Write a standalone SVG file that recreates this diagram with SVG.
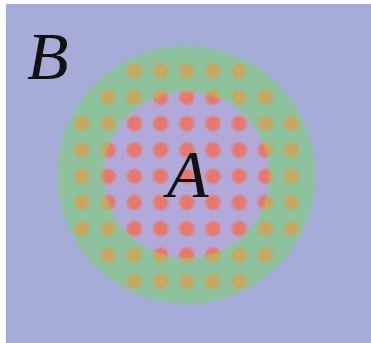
<svg xmlns="http://www.w3.org/2000/svg" xmlns:xlink="http://www.w3.org/1999/xlink" width="371" height="343" viewBox="0 0 371 343">
<style>
.lbl{font-family:"Liberation Serif","DejaVu Serif",serif;font-style:italic;font-size:68px;fill:#111}
</style>
<defs>
<clipPath id="innerClip"><circle cx="186.5" cy="175" r="83"/></clipPath>
<filter id="soft" x="-5%" y="-5%" width="110%" height="110%"><feGaussianBlur stdDeviation="0.9"/></filter>
<g id="dotgrid">
<circle cx="134.4" cy="71" r="7.5"/><circle cx="160.6" cy="71" r="7.5"/><circle cx="186.8" cy="71" r="7.5"/><circle cx="213" cy="71" r="7.5"/><circle cx="239.2" cy="71" r="7.5"/>
<circle cx="108.2" cy="97.3" r="7.5"/><circle cx="134.4" cy="97.3" r="7.5"/><circle cx="160.6" cy="97.3" r="7.5"/><circle cx="186.8" cy="97.3" r="7.5"/><circle cx="213" cy="97.3" r="7.5"/><circle cx="239.2" cy="97.3" r="7.5"/><circle cx="265.4" cy="97.3" r="7.5"/>
<circle cx="82" cy="123.6" r="7.5"/><circle cx="108.2" cy="123.6" r="7.5"/><circle cx="134.4" cy="123.6" r="7.5"/><circle cx="160.6" cy="123.6" r="7.5"/><circle cx="186.8" cy="123.6" r="7.5"/><circle cx="213" cy="123.6" r="7.5"/><circle cx="239.2" cy="123.6" r="7.5"/><circle cx="265.4" cy="123.6" r="7.5"/><circle cx="291.6" cy="123.6" r="7.5"/>
<circle cx="82" cy="149.9" r="7.5"/><circle cx="108.2" cy="149.9" r="7.5"/><circle cx="134.4" cy="149.9" r="7.5"/><circle cx="160.6" cy="149.9" r="7.5"/><circle cx="186.8" cy="149.9" r="7.5"/><circle cx="213" cy="149.9" r="7.5"/><circle cx="239.2" cy="149.9" r="7.5"/><circle cx="265.4" cy="149.9" r="7.5"/><circle cx="291.6" cy="149.9" r="7.5"/>
<circle cx="82" cy="176.2" r="7.5"/><circle cx="108.2" cy="176.2" r="7.5"/><circle cx="134.4" cy="176.2" r="7.5"/><circle cx="160.6" cy="176.2" r="7.5"/><circle cx="186.8" cy="176.2" r="7.5"/><circle cx="213" cy="176.2" r="7.5"/><circle cx="239.2" cy="176.2" r="7.5"/><circle cx="265.4" cy="176.2" r="7.5"/><circle cx="291.6" cy="176.2" r="7.5"/>
<circle cx="82" cy="202.5" r="7.5"/><circle cx="108.2" cy="202.5" r="7.5"/><circle cx="134.4" cy="202.5" r="7.5"/><circle cx="160.6" cy="202.5" r="7.5"/><circle cx="186.8" cy="202.5" r="7.5"/><circle cx="213" cy="202.5" r="7.5"/><circle cx="239.2" cy="202.5" r="7.5"/><circle cx="265.4" cy="202.5" r="7.5"/><circle cx="291.6" cy="202.5" r="7.5"/>
<circle cx="82" cy="228.8" r="7.5"/><circle cx="108.2" cy="228.8" r="7.5"/><circle cx="134.4" cy="228.8" r="7.5"/><circle cx="160.6" cy="228.8" r="7.5"/><circle cx="186.8" cy="228.8" r="7.5"/><circle cx="213" cy="228.8" r="7.5"/><circle cx="239.2" cy="228.8" r="7.5"/><circle cx="265.4" cy="228.8" r="7.5"/><circle cx="291.6" cy="228.8" r="7.5"/>
<circle cx="108.2" cy="255.1" r="7.5"/><circle cx="134.4" cy="255.1" r="7.5"/><circle cx="160.6" cy="255.1" r="7.5"/><circle cx="186.8" cy="255.1" r="7.5"/><circle cx="213" cy="255.1" r="7.5"/><circle cx="239.2" cy="255.1" r="7.5"/><circle cx="265.4" cy="255.1" r="7.5"/>
<circle cx="134.4" cy="281.4" r="7.5"/><circle cx="160.6" cy="281.4" r="7.5"/><circle cx="186.8" cy="281.4" r="7.5"/><circle cx="213" cy="281.4" r="7.5"/><circle cx="239.2" cy="281.4" r="7.5"/>
</g>
</defs>
<rect x="0" y="0" width="371" height="343" fill="#ffffff"/>
<g id="setB">
<rect x="6" y="4" width="365" height="339" fill="#a6acd8"/>
</g>
<g id="ring" filter="url(#soft)">
<circle cx="186.5" cy="175" r="129" fill="#8dc29d"/>
<circle cx="186.5" cy="175" r="83" fill="#b2a9db"/>
</g>
<g id="dots" filter="url(#soft)">
<use xlink:href="#dotgrid" href="#dotgrid" fill="#c7a85f"/>
<g clip-path="url(#innerClip)">
<use xlink:href="#dotgrid" href="#dotgrid" fill="#e8776d"/>
</g>
</g>
<g id="labels">
<text class="lbl" x="27" y="79">B</text>
<text class="lbl" x="167" y="197">A</text>
</g>
</svg>
